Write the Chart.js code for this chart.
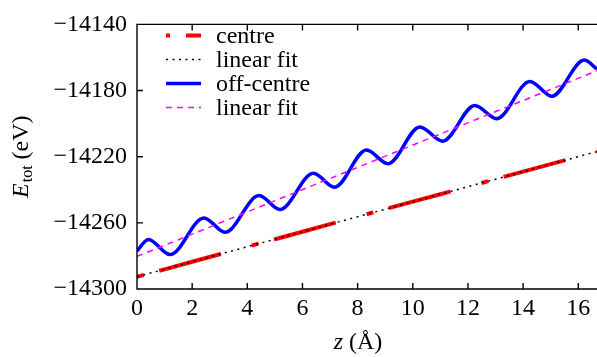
<!DOCTYPE html>
<html>
<head>
<meta charset="utf-8">
<script src="https://cdn.jsdelivr.net/npm/chart.js@4.4.0/dist/chart.umd.min.js"></script>
<style>
  html, body { margin: 0; padding: 0; background: #fff; }
</style>
</head>
<body>
<canvas id="chart" width="597" height="357"></canvas>
<script>
/* global Chart */
const SERIF = '"Liberation Serif", "Times New Roman", serif';

// 軸範囲と目盛り
const X_MIN = 0, X_MAX = 16.68, X_STEP = 2;
const Y_MIN = -14300, Y_MAX = -14140, Y_STEP = 40;

// centre（赤）: z (Å), E (eV)
const centreZ = [0, 1, 2, 3, 4, 5, 6, 7, 8, 9, 10, 11, 12, 13, 14, 15, 16, 16.68];
const centreE = [-14292.6, -14288.1, -14283.5, -14279.0, -14274.4, -14269.9, -14265.4, -14260.8,
                 -14256.3, -14251.7, -14247.2, -14242.7, -14238.1, -14233.6, -14229.0, -14224.5,
                 -14220.0, -14216.9];

// centre の線形フィット（黒点線）
const centreFitZ = [0, 16.68];
const centreFitE = [-14292.6, -14216.9];

// off-centre（青）: 山と谷
const offZ = [0, 0.41, 1.2, 2.43, 3.19, 4.43, 5.18, 6.4, 7.16, 8.32, 9.1,
              10.26, 11.08, 12.25, 13.04, 14.25, 15.04, 16.22, 16.68];
const offE = [-14277.0, -14270.0, -14279.2, -14257.0, -14265.7, -14243.5, -14252.0, -14230.0,
              -14238.5, -14216.0, -14224.2, -14202.0, -14210.6, -14189.0, -14197.0, -14174.5,
              -14183.4, -14161.6, -14167.0];

// off-centre の線形フィット（マゼンタ破線）
const offFitZ = [0, 16.68];
const offFitE = [-14280.3, -14168.0];

const pts = (xs, ys) => xs.map((x, i) => ({ x, y: ys[i] }));
const minus = (v) => String(v).replace("-", "\u2212");

// 枠線と内向きの目盛り
const framePlugin = {
  id: "frame",
  afterDatasetsDraw(chart) {
    const { ctx, chartArea: a, scales } = chart;
    ctx.save();
    ctx.strokeStyle = "#000";
    ctx.lineWidth = 1.4;
    ctx.setLineDash([]);
    ctx.beginPath();
    ctx.moveTo(a.right + 2, a.top); ctx.lineTo(a.left, a.top);
    ctx.lineTo(a.left, a.bottom); ctx.lineTo(a.right + 2, a.bottom);
    scales.x.ticks.forEach(t => {
      const px = scales.x.getPixelForValue(t.value);
      ctx.moveTo(px, a.bottom); ctx.lineTo(px, a.bottom - 6);
      ctx.moveTo(px, a.top); ctx.lineTo(px, a.top + 6);
    });
    scales.y.ticks.forEach(t => {
      const py = scales.y.getPixelForValue(t.value);
      ctx.moveTo(a.left, py); ctx.lineTo(a.left + 6, py);
    });
    ctx.stroke();
    ctx.restore();
  }
};

// 凡例（グラフ内左上）
const LEGEND_X0 = 166, LEGEND_X1 = 201, LEGEND_TEXT_X = 216, LEGEND_Y0 = 35.5, LEGEND_DY = 24;
const legendPlugin = {
  id: "innerLegend",
  afterDraw(chart) {
    const { ctx } = chart;
    ctx.save();
    chart.data.datasets.forEach((ds, i) => {
      const y = LEGEND_Y0 + i * LEGEND_DY;
      ctx.strokeStyle = ds.borderColor;
      ctx.lineWidth = ds.borderWidth;
      ctx.lineCap = "butt";
      ctx.setLineDash(ds.borderDash || []);
      ctx.lineDashOffset = ds.legendDashOffset || 0;
      ctx.beginPath();
      ctx.moveTo(LEGEND_X0, y); ctx.lineTo(LEGEND_X1, y);
      ctx.stroke();
      ctx.setLineDash([]);
      ctx.fillStyle = "#000";
      ctx.font = `24px ${SERIF}`;
      ctx.textAlign = "left";
      ctx.textBaseline = "alphabetic";
      ctx.fillText(ds.label, LEGEND_TEXT_X, y + 7.5);
    });
    ctx.restore();
  }
};

// 軸タイトル（イタリック・下付き）
const titlePlugin = {
  id: "axisTitles",
  afterDraw(chart) {
    const { ctx, chartArea: a } = chart;
    ctx.save();
    ctx.fillStyle = "#000";
    ctx.textBaseline = "alphabetic";
    ctx.textAlign = "left";

    // y: E_tot (eV)
    const fE = `italic 24px ${SERIF}`, fSub = `16px ${SERIF}`, fN = `24px ${SERIF}`;
    ctx.font = fE; const wE = ctx.measureText("E").width;
    ctx.font = fSub; const wS = ctx.measureText("tot").width;
    ctx.font = fN; const wU = ctx.measureText(" (eV)").width;
    const total = wE + 1 + wS + wU;
    ctx.translate(28, (a.top + a.bottom) / 2);
    ctx.rotate(-Math.PI / 2);
    let x = -total / 2;
    ctx.font = fE; ctx.fillText("E", x, 0); x += wE + 1;
    ctx.font = fSub; ctx.fillText("tot", x, 4); x += wS;
    ctx.font = fN; ctx.fillText(" (eV)", x, 0);
    ctx.setTransform(1, 0, 0, 1, 0, 0);

    // x: z (Å)
    ctx.font = fE; const wz = ctx.measureText("z").width;
    ctx.font = fN; const wr = ctx.measureText(" (\u00C5)").width;
    let x2 = 358 - (wz + wr) / 2;
    ctx.font = fE; ctx.fillText("z", x2, 349);
    ctx.font = fN; ctx.fillText(" (\u00C5)", x2 + wz, 349);
    ctx.restore();
  }
};

const tickFont = { family: SERIF, size: 24 };

new Chart(document.getElementById("chart").getContext("2d"), {
  type: "line",
  data: {
    datasets: [
      { label: "centre", data: pts(centreZ, centreE), borderColor: "#ff0000", borderWidth: 4,
        borderDash: [7, 16, 64, 32], legendDashOffset: 3, borderCapStyle: "butt", order: 4 },
      { label: "linear fit", data: pts(centreFitZ, centreFitE), borderColor: "#000000", borderWidth: 1.5,
        borderDash: [2, 4.5], order: 3 },
      { label: "off-centre", data: pts(offZ, offE), borderColor: "#0000ff", borderWidth: 3.5,
        cubicInterpolationMode: "monotone", order: 2 },
      { label: "linear fit", data: pts(offFitZ, offFitE), borderColor: "#ff00ff", borderWidth: 1.5,
        borderDash: [6, 5], order: 1 }
    ]
  },
  options: {
    responsive: false,
    animation: false,
    layout: { padding: { top: 17, left: 0, right: 0, bottom: 0 } },
    elements: { point: { radius: 0 }, line: { fill: false } },
    plugins: { legend: { display: false }, tooltip: { enabled: false } },
    scales: {
      x: {
        type: "linear", min: X_MIN, max: X_MAX,
        grid: { display: false, drawTicks: false }, border: { display: false },
        ticks: { stepSize: X_STEP, includeBounds: false, autoSkip: false, maxRotation: 0,
                 padding: 5, color: "#000", font: tickFont },
        afterFit: (s) => { s.height = 68; }
      },
      y: {
        type: "linear", min: Y_MIN, max: Y_MAX,
        grid: { display: false, drawTicks: false }, border: { display: false },
        ticks: { stepSize: Y_STEP, includeBounds: false, autoSkip: false, padding: 10,
                 color: "#000", font: tickFont, callback: minus },
        afterFit: (s) => { s.width = 137; }
      }
    }
  },
  plugins: [framePlugin, legendPlugin, titlePlugin]
});
</script>
</body>
</html>
